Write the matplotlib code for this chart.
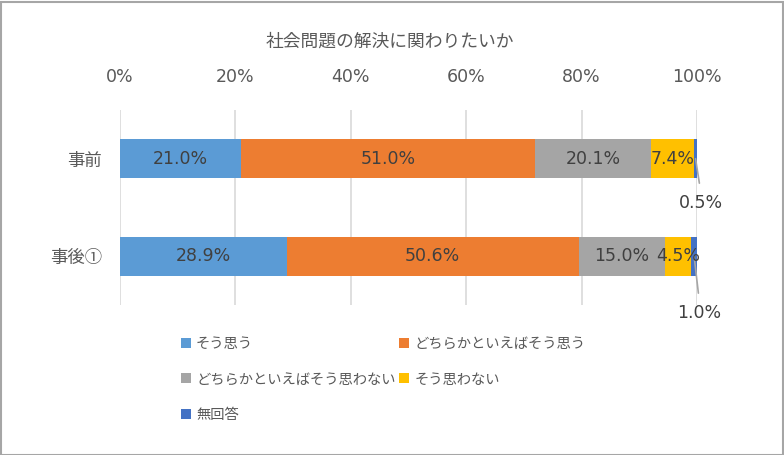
import matplotlib.pyplot as plt
import matplotlib.patches as mpatches
import numpy as np

plt.rcParams["font.family"] = ["DejaVu Sans", "Noto Sans CJK JP"]

title = "社会問題の解決に関わりたいか"
categories = ["事前", "事後①"]
series_names = ["そう思う", "どちらかといえばそう思う", "どちらかといえばそう思わない", "そう思わない", "無回答"]
before = [21.0, 51.0, 20.1, 7.4, 0.5]
after = [28.9, 50.6, 15.0, 4.5, 1.0]
colors = ["#5B9BD5", "#ED7D31", "#A5A5A5", "#FFC000", "#4472C4"]
tick_values = [0, 20, 40, 60, 80, 100]

text_gray = "#595959"
label_dark = "#404040"
cjk = ["Noto Sans CJK JP", "DejaVu Sans"]

values = np.array([before, after])

fig = plt.figure(figsize=(7.84, 4.55), dpi=100)
ax = fig.add_axes([120 / 784, 1 - 305 / 455, 577 / 784, 195 / 455])

y = np.arange(len(categories))
left = np.zeros(len(categories))
handles = []
for i, name in enumerate(series_names):
    bars = ax.barh(y, values[:, i], left=left, height=0.4, color=colors[i], label=name, zorder=3)
    handles.append(bars)
    for j, v in enumerate(values[:, i]):
        cx = left[j] + v / 2
        if v >= 3:
            ax.text(cx, y[j], f"{v:.1f}%", ha="center", va="center", fontsize=12.5, color=label_dark, zorder=4)
        else:
            # tiny segments get a label below with a leader line
            dy = -32 if j == 0 else -41
            ax.annotate(f"{v:.1f}%", xy=(cx, y[j]), xytext=(4, dy), textcoords="offset points",
                        ha="center", va="center", fontsize=12.5, color=label_dark,
                        arrowprops=dict(arrowstyle="-", color="#A6A6A6", lw=1.2, shrinkA=6, shrinkB=0,
                                        relpos=(0.5, 1.0)))
    left = left + values[:, i]

ax.set_xlim(0, 100)
ax.set_ylim(1.5, -0.5)
ax.set_xticks(tick_values)
ax.set_xticklabels([f"{t}%" for t in tick_values])
ax.xaxis.tick_top()
ax.tick_params(axis="x", length=0, pad=17, labelsize=12.5, labelcolor=text_gray)
ax.set_yticks(y)
ax.set_yticklabels(categories, family=cjk)
ax.tick_params(axis="y", length=0, pad=13, labelsize=12.5, labelcolor=text_gray)
ax.grid(axis="x", color="#D9D9D9", lw=1.2, zorder=0)
for s in ax.spines.values():
    s.set_visible(False)

fig.text(390 / 784, 1 - 42 / 455, title, ha="center", va="center", fontsize=12.8,
         color=text_gray, family=cjk)

# column-wise fill so the entries read row by row like the original
order = [0, 2, 4, 1, 3]
leg = fig.legend([handles[k] for k in order], [series_names[k] for k in order],
                 ncol=2, loc="upper left", bbox_to_anchor=(181 / 784, 1 - 337 / 455),
                 frameon=False, prop={"family": cjk, "size": 10.3},
                 handlelength=0.7, handleheight=0.7, handletextpad=0.35,
                 columnspacing=0.25, labelspacing=1.5, borderpad=0, borderaxespad=0)
for t in leg.get_texts():
    t.set_color(text_gray)

fig.add_artist(mpatches.Rectangle((0.5 / 784, 0.5 / 455), 782 / 784, 453 / 455,
                                  transform=fig.transFigure, fill=False,
                                  edgecolor="#A6A6A6", lw=1.5))

fig.savefig("out.png", dpi=100)
